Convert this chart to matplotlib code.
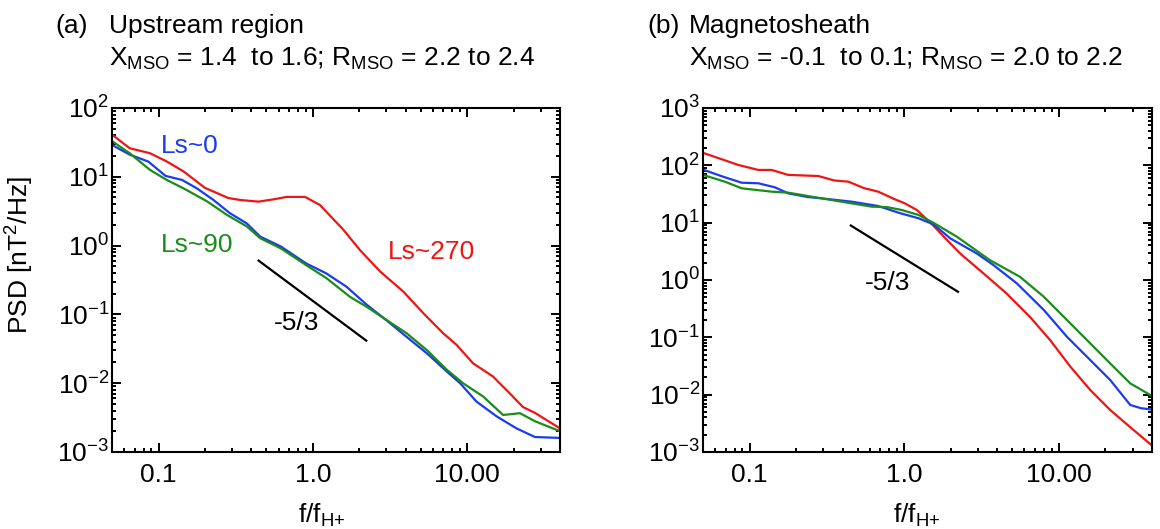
import numpy as np
import matplotlib
matplotlib.use("Agg")
import matplotlib.pyplot as plt
from matplotlib.ticker import FixedLocator, FuncFormatter, LogLocator, NullFormatter

plt.rcParams['font.family'] = ['Liberation Sans', 'DejaVu Sans']
plt.rcParams['mathtext.fontset'] = 'custom'
plt.rcParams['mathtext.rm'] = 'Liberation Sans'
plt.rcParams['mathtext.it'] = 'Liberation Sans'
plt.rcParams['mathtext.default'] = 'regular'
plt.rcParams['axes.unicode_minus'] = False

FS = 19
RED = '#ee1515'
BLUE = '#1a3cf0'
GREEN = '#1a8c1a'

# (a) Upstream region
f_a_ls0 = [0.05, 0.065, 0.086, 0.111, 0.142, 0.177, 0.227, 0.29, 0.373, 0.456, 0.62, 0.905,
           1.22, 1.65, 2.22, 3.0, 4.06, 5.5, 7.4, 9.0, 11.5, 15.5, 20.9, 27.5, 40]
psd_a_ls0 = [29, 21, 16.6, 10.3, 9.0, 6.8, 4.6, 2.96, 2.1, 1.35, 0.97, 0.55,
             0.395, 0.253, 0.14, 0.082, 0.047, 0.027, 0.0147, 0.01, 0.0054, 0.0033, 0.0022, 0.00165, 0.0016]

f_a_ls90 = [0.05, 0.065, 0.088, 0.113, 0.145, 0.206, 0.277, 0.373, 0.456, 0.62, 0.905, 1.23,
            1.74, 2.23, 3.0, 4.06, 5.5, 7.4, 9.4, 12.7, 17.1, 22, 27.5, 40]
psd_a_ls90 = [33, 22, 12.6, 9.0, 6.8, 4.4, 2.8, 1.9, 1.28, 0.91, 0.52, 0.334,
              0.18, 0.129, 0.083, 0.053, 0.030, 0.0156, 0.01, 0.0064, 0.00345, 0.00366, 0.0028, 0.002]

f_a_ls270 = [0.05, 0.065, 0.088, 0.113, 0.145, 0.2, 0.284, 0.338, 0.445, 0.556, 0.679, 0.89,
             1.11, 1.58, 2.02, 2.73, 3.86, 5.2, 7.0, 8.55, 10.9, 14.7, 18.9, 23, 27.5, 40]
psd_a_ls270 = [41, 26, 22, 16.7, 12, 6.9, 4.9, 4.6, 4.35, 4.7, 5.1, 5.1,
               3.9, 1.69, 0.86, 0.42, 0.214, 0.104, 0.053, 0.036, 0.0195, 0.0125, 0.0071, 0.0045, 0.0037, 0.0022]

# (b) Magnetosheath
f_b_ls0 = [0.05, 0.069, 0.089, 0.114, 0.146, 0.178, 0.237, 0.293, 0.458, 0.68, 0.92, 1.24,
           1.55, 1.99, 2.95, 3.78, 5.36, 8.0, 11.3, 16, 21.5, 29, 34, 40]
psd_b_ls0 = [84, 62, 49.7, 48.6, 41.3, 32.4, 28, 26.5, 23.2, 19.5, 14.9, 11.9,
             9.3, 5.3, 2.9, 1.82, 0.87, 0.3, 0.102, 0.04, 0.018, 0.0066, 0.0058, 0.0055]

f_b_ls90 = [0.05, 0.069, 0.089, 0.139, 0.178, 0.293, 0.458, 0.618, 0.78, 0.966, 1.24, 1.55,
            2.19, 3.6, 5.6, 8.0, 11.3, 16, 21.5, 29, 40]
psd_b_ls90 = [68, 52, 39.7, 34.7, 33.3, 26.5, 21.7, 19, 18.6, 16.6, 13.6, 9.9,
              5.7, 2.2, 1.14, 0.51, 0.2, 0.078, 0.035, 0.0157, 0.0095]

f_b_ls270 = [0.05, 0.085, 0.114, 0.139, 0.178, 0.279, 0.352, 0.436, 0.55, 0.68, 0.857, 1.01,
             1.21, 1.55, 1.89, 2.3, 3.26, 4.6, 6.5, 8.8, 11.9, 16, 21.5, 29, 40]
psd_b_ls270 = [165, 101, 83, 83, 68, 65, 54.5, 51.8, 40, 34.7, 26, 21.7,
               16.6, 8.8, 5.0, 2.9, 1.3, 0.58, 0.228, 0.089, 0.0306, 0.012, 0.0054, 0.0027, 0.0013]

# -5/3 reference lines: (f start, f end, psd at start)
ref_a = (0.445, 2.22, 0.605)
ref_b = (0.452, 2.23, 8.9)

x_tick_labels = {0.1: '0.1', 1.0: '1.0', 10.0: '10.00'}


def style_axes(ax, ylim, xlabel_x):
    ax.set_xscale('log')
    ax.set_yscale('log')
    ax.set_xlim(0.05, 40)
    ax.set_ylim(*ylim)
    ax.xaxis.set_major_locator(FixedLocator([0.1, 1.0, 10.0]))
    ax.xaxis.set_major_formatter(FuncFormatter(lambda v, p: x_tick_labels.get(round(v, 3), '')))
    ax.xaxis.set_minor_locator(LogLocator(base=10, subs=np.arange(2, 10), numticks=20))
    ax.xaxis.set_minor_formatter(NullFormatter())
    ax.yaxis.set_major_locator(LogLocator(base=10, numticks=10))
    ax.yaxis.set_minor_locator(LogLocator(base=10, subs=np.arange(2, 10), numticks=20))
    ax.yaxis.set_minor_formatter(NullFormatter())
    ax.tick_params(which='both', direction='in', top=True, right=True, labelsize=FS, width=1.4)
    ax.tick_params(which='major', length=6.5)
    ax.tick_params(which='minor', length=3)
    ax.tick_params(axis='x', pad=8)
    ax.tick_params(axis='y', pad=2)
    for s in ax.spines.values():
        s.set_linewidth(1.5)
    ax.set_xlabel(r'f/f$_{\mathrm{H{+}}}$', fontsize=FS)
    ax.xaxis.set_label_coords(xlabel_x, -0.145)


def ref_line(ax, ref, label_xy):
    f0, f1, p0 = ref
    fr = np.array([f0, f1])
    ax.plot(fr, p0 * (fr / f0) ** (-5.0 / 3.0), color='black', lw=1.6)
    ax.text(label_xy[0], label_xy[1], '-5/3', fontsize=FS, ha='center', va='center')


fig = plt.figure(figsize=(11.6, 5.29), dpi=100)
ax_a = fig.add_axes([0.0966, 0.1456, 0.3862, 0.6503])
ax_b = fig.add_axes([0.606, 0.1456, 0.387, 0.6503])

# panel (a)
ax_a.plot(f_a_ls270, psd_a_ls270, color=RED, lw=1.6)
ax_a.plot(f_a_ls0, psd_a_ls0, color=BLUE, lw=1.6)
ax_a.plot(f_a_ls90, psd_a_ls90, color=GREEN, lw=1.6)
style_axes(ax_a, (1e-3, 1e2), 0.469)
ref_line(ax_a, ref_a, (0.79, 0.074))
ax_a.text(0.16, 27.7, 'Ls~0', color=BLUE, fontsize=FS, ha='center', va='center')
ax_a.text(0.177, 1.02, 'Ls~90', color=GREEN, fontsize=FS, ha='center', va='center')
ax_a.text(5.9, 0.82, 'Ls~270', color=RED, fontsize=FS, ha='center', va='center')
ax_a.set_ylabel(r'PSD [nT$^2$/Hz]', fontsize=FS)
ax_a.yaxis.set_label_coords(-0.17, 0.573)

# panel (b)
ax_b.plot(f_b_ls270, psd_b_ls270, color=RED, lw=1.6)
ax_b.plot(f_b_ls0, psd_b_ls0, color=BLUE, lw=1.6)
ax_b.plot(f_b_ls90, psd_b_ls90, color=GREEN, lw=1.6)
style_axes(ax_b, (1e-3, 1e3), 0.477)
ref_line(ax_b, ref_b, (0.778, 0.87))

# panel headers
H = 529.0
W = 1160.0
fig.text(55 / W, 1 - 33 / H, '(a)', fontsize=FS, va='baseline')
fig.text(109 / W, 1 - 33 / H, 'Upstream region', fontsize=FS, va='baseline')
fig.text(109 / W, 1 - 66 / H, r'X$_{\mathrm{MSO}}$ = 1.4  to 1.6; R$_{\mathrm{MSO}}$ = 2.2 to 2.4',
         fontsize=FS, va='baseline')
fig.text(647 / W, 1 - 33 / H, '(b)', fontsize=FS, va='baseline')
fig.text(689 / W, 1 - 33 / H, 'Magnetosheath', fontsize=FS, va='baseline')
fig.text(689 / W, 1 - 66 / H, r'X$_{\mathrm{MSO}}$ = -0.1  to 0.1; R$_{\mathrm{MSO}}$ = 2.0 to 2.2',
         fontsize=FS, va='baseline')

fig.savefig('out.png', dpi=100)
